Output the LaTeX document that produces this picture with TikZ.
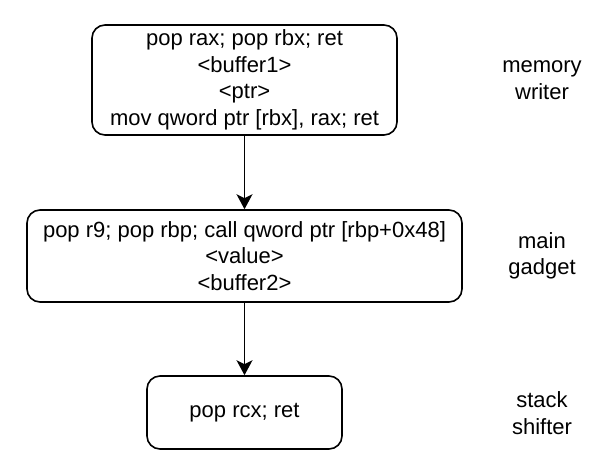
\documentclass[tikz,border=0pt]{standalone}
\usepackage{fontspec}
\setmainfont{Liberation Sans}
\usetikzlibrary{arrows.meta}
\begin{document}
\begin{tikzpicture}[x=1pt,y=-1pt,
  gbox/.style={draw=black, line width=1.6pt, rounded corners=13pt, align=center, inner sep=0pt,
    font=\fontsize{22}{26.5}\selectfont},
  glabel/.style={align=center, inner sep=0pt, font=\fontsize{22}{26.5}\selectfont},
  flow/.style={draw=black, line width=1.6pt, -{Stealth[width=16pt,length=15pt,inset=4pt]}}]
\useasboundingbox (0,0) rectangle (599,472);
\node[gbox, minimum width=305pt, minimum height=110pt] (w) at (244.5,80)
  {pop rax; pop rbx; ret\\<buffer1>\\<ptr>\\mov qword ptr [rbx], rax; ret};
\node[gbox, minimum width=435pt, minimum height=92pt] (g) at (244.5,256)
  {pop r9; pop rbp; call qword ptr [rbp+0x48]\\<value>\\<buffer2>};
\node[gbox, minimum width=195pt, minimum height=73pt] (s) at (244.5,412.5)
  {pop rcx; ret};
\node[glabel] (lw) at (542,80) {memory\\writer};
\node[glabel] (lg) at (542,256) {main\\gadget};
\node[glabel] (ls) at (542,413) {stack\\shifter};
\draw[flow] (w.south) -- (g.north);
\draw[flow] (g.south) -- (s.north);
\end{tikzpicture}
\end{document}
